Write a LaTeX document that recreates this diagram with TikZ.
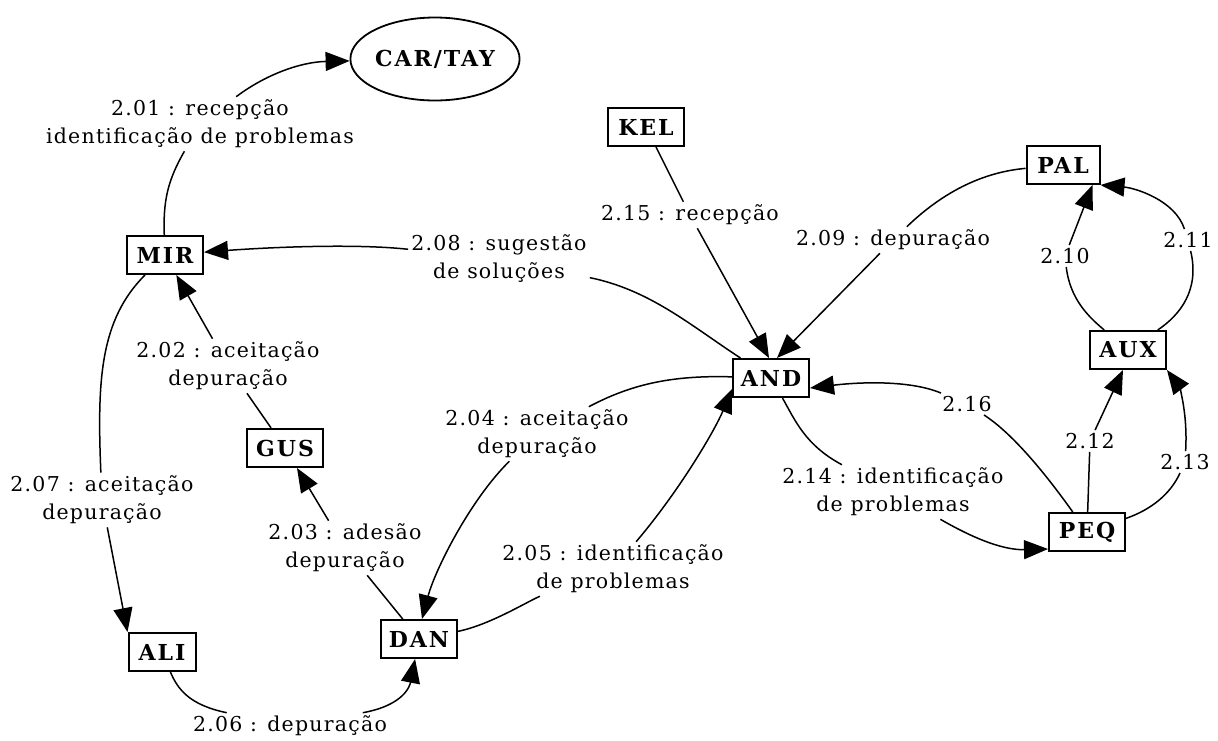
\documentclass[tikz,border=0pt]{standalone}
\usepackage{fontspec}
\setmainfont{DejaVu Serif}
\newfontfamily\labfont[LetterSpace=6]{DejaVu Serif}
\newfontfamily\boxfont[LetterSpace=9]{DejaVu Serif}
\usetikzlibrary{arrows.meta,shapes.geometric}
\begin{document}
\begin{tikzpicture}[x=1pt,y=-1pt,
  box/.style={draw,line width=2pt,minimum width=76pt,minimum height=38pt,inner sep=2pt,
    font=\boxfont\fontsize{22}{24}\selectfont\bfseries},
  lab/.style={align=center,inner sep=3pt,font=\labfont\fontsize{20.5}{28}\selectfont},
  edge/.style={line width=1.5pt},
  arr/.style={edge,-{Triangle[length=24pt,width=19pt]}}]
\useasboundingbox (0,0) rectangle (1218,740);

% entities
\node[draw,ellipse,line width=1.8pt,minimum width=165pt,minimum height=83pt,inner sep=0pt,
  font=\boxfont\fontsize{22}{24}\selectfont\bfseries] (CAR) at (435,59) {CAR/TAY};
\node[box] (MIR) at (165,255) {MIR};
\node[box] (KEL) at (646,127) {KEL};
\node[box,minimum width=73pt] (PAL) at (1063,165) {PAL};
\node[box] (AND) at (771,378) {AND};
\node[box] (AUX) at (1128,350) {AUX};
\node[box] (GUS) at (285,448) {GUS};
\node[box] (PEQ) at (1087,532) {PEQ};
\node[box,minimum width=67pt] (ALI) at (162,652) {ALI};
\node[box] (DAN) at (419,639) {DAN};

% labels
\node[lab] (l01) at (200,124) {2.01 : recepção\\identificação de problemas};
\node[lab] (l08) at (499,259) {2.08 : sugestão\\de soluções};
\node[lab] (l15) at (690,215) {2.15 : recepção};
\node[lab] (l09) at (893,240) {2.09 : depuração};
\node[lab] (l10) at (1065,256) {2.10};
\node[lab] (l11) at (1188,240) {2.11};
\node[lab] (l12) at (1090,441) {2.12};
\node[lab] (l13) at (1185,462) {2.13};
\node[lab] (l16) at (967,404) {2.16};
\node[lab] (l14) at (893,492) {2.14 : identificação\\de problemas};
\node[lab] (l02) at (228,366) {2.02 : aceitação\\depuração};
\node[lab] (l03) at (345,548) {2.03 : adesão\\depuração};
\node[lab] (l04) at (537,434) {2.04 : aceitação\\depuração};
\node[lab] (l05) at (613,569) {2.05 : identificação\\de problemas};
\node[lab] (l06) at (290,726) {2.06 : depuração};
\node[lab] (l07) at (102,500) {2.07 : aceitação\\depuração};

% 2.01
\draw[edge] (MIR) .. controls (163,200) and (168,180) .. (l01);
\draw[arr] (l01) .. controls (265,75) and (300,62) .. (CAR);
% 2.08
\draw[edge] (AND) .. controls (690,325) and (650,290) .. (l08);
\draw[arr] (l08) .. controls (350,243) and (260,248) .. (MIR);
% 2.15
\draw[edge] (KEL) -- (l15);
\draw[arr] (l15) -- ([xshift=-2pt]AND.north);
% 2.09
\draw[edge] (PAL) .. controls (985,172) and (945,190) .. (l09);
\draw[arr] (l09) -- ([xshift=6pt]AND.north);
% 2.10
\draw[edge] (AUX) .. controls (1090,318) and (1070,300) .. (l10);
\draw[arr] (l10) -- ([xshift=-8pt]PAL.south east);
% 2.11
\draw[edge] (AUX) .. controls (1180,315) and (1200,290) .. (l11);
\draw[arr] (l11) .. controls (1175,200) and (1135,188) .. (PAL.south east);
% 2.12
\draw[edge] (PEQ) -- (l12);
\draw[arr] (l12) -- ([xshift=-5pt]AUX.south);
% 2.13
\draw[edge] (PEQ) .. controls (1150,510) and (1170,495) .. (l13);
\draw[arr] (l13) .. controls (1188,410) and (1178,385) .. (AUX.south east);
% 2.16
\draw[edge] (PEQ) .. controls (1050,480) and (1015,435) .. (l16);
\draw[arr] (l16) .. controls (910,380) and (860,382) .. ([yshift=-10pt]AND.east);
% 2.14
\draw[edge] (AND) .. controls (795,420) and (805,445) .. (l14);
\draw[arr] (l14) .. controls (985,545) and (1010,550) .. ([yshift=3pt]PEQ.south west);
% 2.02
\draw[edge] (GUS) -- (l02);
\draw[arr] (l02) -- (MIR);
% 2.03
\draw[edge] (DAN) -- (l03);
\draw[arr] (l03) -- (GUS);
% 2.04
\draw[edge] (AND) .. controls (670,375) and (630,385) .. (l04);
\draw[arr] (l04) .. controls (470,500) and (435,570) .. ([xshift=3pt]DAN.north);
% 2.05
\draw[edge] (DAN) .. controls (490,625) and (530,600) .. (l05);
\draw[arr] (l05) .. controls (680,490) and (715,430) .. ([yshift=-11pt]AND.west);
% 2.06
\draw[edge] (ALI) .. controls (178,690) and (190,705) .. (l06);
\draw[arr] (l06) .. controls (405,705) and (410,685) .. (DAN);
% 2.07
\draw[edge] (MIR) .. controls (100,320) and (97,380) .. (l07);
\draw[arr] (l07) -- (ALI.north west);
\end{tikzpicture}
\end{document}
